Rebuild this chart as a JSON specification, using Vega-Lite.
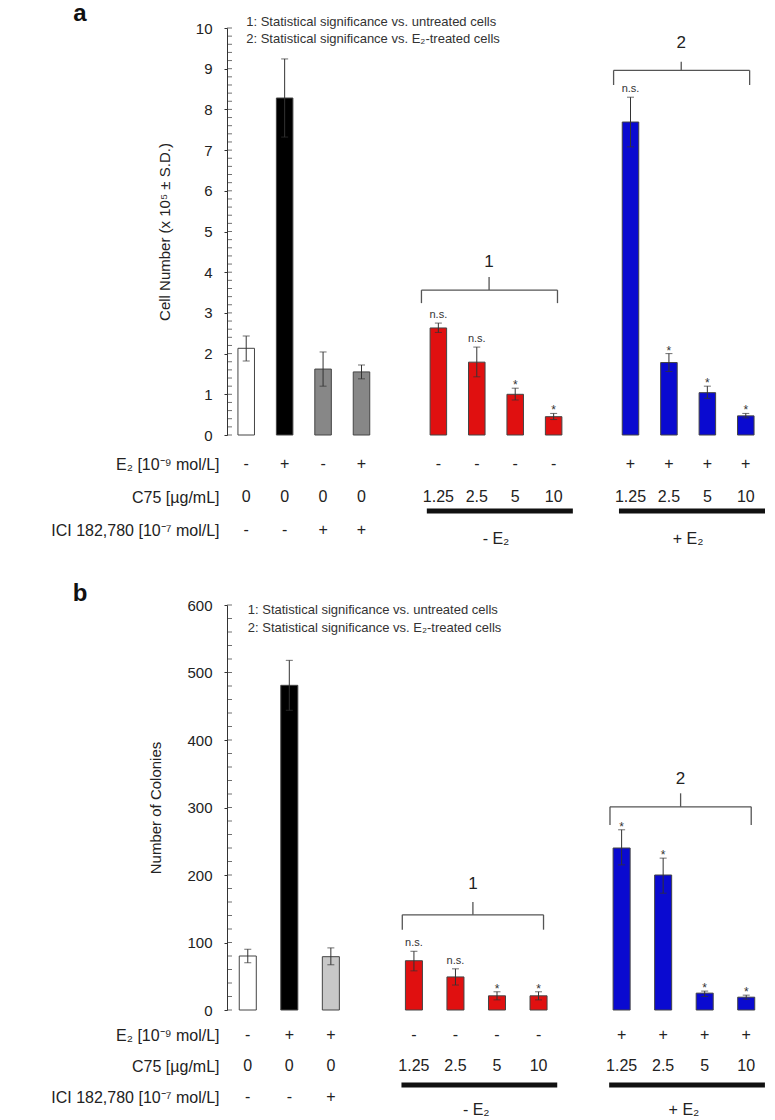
{
  "$schema": "https://vega.github.io/schema/vega-lite/v6.json",
  "background": "white",
  "padding": {"left": 50, "top": 1, "right": 5, "bottom": 0},
  "bounds": "flush",
  "spacing": 23,
  "config": {
    "view": {"stroke": null},
    "font": "Liberation Sans",
    "text": {"font": "Liberation Sans", "color": "#222222"},
    "axis": {"labelFont": "Liberation Sans", "titleFont": "Liberation Sans"}
  },
  "resolve": {"scale": {"x": "independent", "y": "independent", "color": "independent"}},
  "datasets": {
    "barsA": [
      {"id": "A1", "kind": "control", "mean": 2.13, "lo": 1.82, "hi": 2.43, "E2": "-", "C75": "0", "ICI": "-", "sig": ""},
      {"id": "A2", "kind": "E2", "mean": 8.28, "lo": 7.32, "hi": 9.24, "E2": "+", "C75": "0", "ICI": "-", "sig": ""},
      {"id": "A3", "kind": "ICI", "mean": 1.62, "lo": 1.2, "hi": 2.04, "E2": "-", "C75": "0", "ICI": "+", "sig": ""},
      {"id": "A4", "kind": "ICI+E2", "mean": 1.55, "lo": 1.38, "hi": 1.72, "E2": "+", "C75": "0", "ICI": "+", "sig": ""},
      {"id": "A5", "kind": "C75", "mean": 2.63, "lo": 2.52, "hi": 2.75, "E2": "-", "C75": "1.25", "ICI": "", "sig": "n.s."},
      {"id": "A6", "kind": "C75", "mean": 1.79, "lo": 1.43, "hi": 2.16, "E2": "-", "C75": "2.5", "ICI": "", "sig": "n.s."},
      {"id": "A7", "kind": "C75", "mean": 1.0, "lo": 0.86, "hi": 1.15, "E2": "-", "C75": "5", "ICI": "", "sig": "*"},
      {"id": "A8", "kind": "C75", "mean": 0.45, "lo": 0.38, "hi": 0.53, "E2": "-", "C75": "10", "ICI": "", "sig": "*"},
      {"id": "A9", "kind": "C75+E2", "mean": 7.69, "lo": 7.08, "hi": 8.3, "E2": "+", "C75": "1.25", "ICI": "", "sig": "n.s."},
      {"id": "A10", "kind": "C75+E2", "mean": 1.78, "lo": 1.56, "hi": 2.0, "E2": "+", "C75": "2.5", "ICI": "", "sig": "*"},
      {"id": "A11", "kind": "C75+E2", "mean": 1.04, "lo": 0.9, "hi": 1.2, "E2": "+", "C75": "5", "ICI": "", "sig": "*"},
      {"id": "A12", "kind": "C75+E2", "mean": 0.47, "lo": 0.42, "hi": 0.53, "E2": "+", "C75": "10", "ICI": "", "sig": "*"}
    ],
    "barsB": [
      {"id": "B1", "kind": "control", "mean": 80, "lo": 70, "hi": 90, "E2": "-", "C75": "0", "ICI": "-", "sig": ""},
      {"id": "B2", "kind": "E2", "mean": 481, "lo": 444, "hi": 518, "E2": "+", "C75": "0", "ICI": "-", "sig": ""},
      {"id": "B3", "kind": "ICI+E2", "mean": 79, "lo": 67, "hi": 92, "E2": "+", "C75": "0", "ICI": "+", "sig": ""},
      {"id": "B4", "kind": "C75", "mean": 73, "lo": 58, "hi": 87, "E2": "-", "C75": "1.25", "ICI": "", "sig": "n.s."},
      {"id": "B5", "kind": "C75", "mean": 49, "lo": 37, "hi": 61, "E2": "-", "C75": "2.5", "ICI": "", "sig": "n.s."},
      {"id": "B6", "kind": "C75", "mean": 21, "lo": 15, "hi": 27, "E2": "-", "C75": "5", "ICI": "", "sig": "*"},
      {"id": "B7", "kind": "C75", "mean": 21, "lo": 15, "hi": 27, "E2": "-", "C75": "10", "ICI": "", "sig": "*"},
      {"id": "B8", "kind": "C75+E2", "mean": 240, "lo": 215, "hi": 267, "E2": "+", "C75": "1.25", "ICI": "", "sig": "*"},
      {"id": "B9", "kind": "C75+E2", "mean": 200, "lo": 173, "hi": 225, "E2": "+", "C75": "2.5", "ICI": "", "sig": "*"},
      {"id": "B10", "kind": "C75+E2", "mean": 25, "lo": 20, "hi": 28, "E2": "+", "C75": "5", "ICI": "", "sig": "*"},
      {"id": "B11", "kind": "C75+E2", "mean": 19, "lo": 16, "hi": 22, "E2": "+", "C75": "10", "ICI": "", "sig": "*"}
    ],
    "minorA": [
      {"v": 0}, {"v": 0.2}, {"v": 0.4}, {"v": 0.6}, {"v": 0.8}, {"v": 1}, {"v": 1.2}, {"v": 1.4}, {"v": 1.6}, {"v": 1.8},
      {"v": 2}, {"v": 2.2}, {"v": 2.4}, {"v": 2.6}, {"v": 2.8}, {"v": 3}, {"v": 3.2}, {"v": 3.4}, {"v": 3.6}, {"v": 3.8},
      {"v": 4}, {"v": 4.2}, {"v": 4.4}, {"v": 4.6}, {"v": 4.8}, {"v": 5}, {"v": 5.2}, {"v": 5.4}, {"v": 5.6}, {"v": 5.8},
      {"v": 6}, {"v": 6.2}, {"v": 6.4}, {"v": 6.6}, {"v": 6.8}, {"v": 7}, {"v": 7.2}, {"v": 7.4}, {"v": 7.6}, {"v": 7.8},
      {"v": 8}, {"v": 8.2}, {"v": 8.4}, {"v": 8.6}, {"v": 8.8}, {"v": 9}, {"v": 9.2}, {"v": 9.4}, {"v": 9.6}, {"v": 9.8}, {"v": 10}
    ],
    "minorB": [
      {"v": 0}, {"v": 20}, {"v": 40}, {"v": 60}, {"v": 80}, {"v": 100}, {"v": 120}, {"v": 140}, {"v": 160}, {"v": 180},
      {"v": 200}, {"v": 220}, {"v": 240}, {"v": 260}, {"v": 280}, {"v": 300}, {"v": 320}, {"v": 340}, {"v": 360}, {"v": 380},
      {"v": 400}, {"v": 420}, {"v": 440}, {"v": 460}, {"v": 480}, {"v": 500}, {"v": 520}, {"v": 540}, {"v": 560}, {"v": 580}, {"v": 600}
    ],
    "bracesA": [
      {"from": "A5", "to": "A8", "mid": "A6", "yh": 3.56, "ye": 3.24, "yc": 3.88, "yl": 4.25, "label": "1"},
      {"from": "A9", "to": "A12", "mid": "A10", "yh": 8.96, "ye": 8.6, "yc": 9.17, "yl": 9.62, "label": "2"}
    ],
    "bracesB": [
      {"from": "B4", "to": "B7", "mid": "B5", "yh": 141, "ye": 119, "yc": 160, "yl": 187, "label": "1"},
      {"from": "B8", "to": "B11", "mid": "B9", "yh": 301, "ye": 274, "yc": 321, "yl": 342, "label": "2"}
    ],
    "groupsA": [
      {"from": "A5", "to": "A8", "mid": "A6", "label": "- E₂"},
      {"from": "A9", "to": "A12", "mid": "A10", "label": "+ E₂"}
    ],
    "groupsB": [
      {"from": "B4", "to": "B7", "mid": "B5", "label": "- E₂"},
      {"from": "B8", "to": "B11", "mid": "B9", "label": "+ E₂"}
    ],
    "notesA": [
      {"t": "1: Statistical significance vs. untreated cells", "y": 10.15},
      {"t": "2: Statistical significance vs. E₂-treated cells", "y": 9.72}
    ],
    "notesB": [
      {"t": "1: Statistical significance vs. untreated cells", "y": 593},
      {"t": "2: Statistical significance vs. E₂-treated cells", "y": 566}
    ]
  },
  "vconcat": [
    {
      "width": 538,
      "height": 407,
      "data": {"name": "barsA"},
      "resolve": {"axis": {"y": "independent"}},
      "layer": [
        {
          "mark": {"type": "bar", "width": {"band": 0.43}, "stroke": "#444444", "strokeWidth": 1},
          "encoding": {
            "x": {"field": "id", "type": "nominal", "scale": {"type": "band", "domain": ["A1", "A2", "A3", "A4", "gA1", "A5", "A6", "A7", "A8", "gA2", "A9", "A10", "A11", "A12"], "paddingInner": 0, "paddingOuter": 0}, "axis": null},
            "y": {"field": "mean", "type": "quantitative", "scale": {"domain": [0, 10], "nice": false}, "axis": {"orient": "left", "values": [0, 1, 2, 3, 4, 5, 6, 7, 8, 9, 10], "tickSize": 3, "tickColor": "#333333", "domainColor": "#333333", "labelFontSize": 15, "labelColor": "#222222", "labelPadding": 12, "grid": false, "title": "Cell Number (x 10⁵ ± S.D.)", "titleFontSize": 15, "titleFontWeight": "normal", "titleColor": "#222222", "titlePadding": 23}},
            "color": {"field": "kind", "type": "nominal", "scale": {"domain": ["control", "E2", "ICI", "ICI+E2", "C75", "C75+E2"], "range": ["#ffffff", "#000000", "#878787", "#878787", "#e01010", "#0a0ad0"]}, "legend": null}
          }
        },
        {
          "data": {"name": "minorA"},
          "mark": {"type": "tick", "orient": "horizontal", "size": 5, "thickness": 1, "xOffset": -16.7, "color": "#333333"},
          "encoding": {"x": {"datum": "A1"}, "y": {"field": "v", "type": "quantitative", "axis": null}}
        },
        {
          "mark": {"type": "rule", "color": "#333333", "strokeWidth": 1},
          "encoding": {"x": {"field": "id", "type": "nominal"}, "y": {"field": "lo", "type": "quantitative", "axis": null}, "y2": {"field": "hi"}}
        },
        {
          "mark": {"type": "tick", "color": "#333333", "size": 7, "thickness": 1},
          "encoding": {"x": {"field": "id", "type": "nominal"}, "y": {"field": "lo", "type": "quantitative", "axis": null}}
        },
        {
          "mark": {"type": "tick", "color": "#333333", "size": 7, "thickness": 1},
          "encoding": {"x": {"field": "id", "type": "nominal"}, "y": {"field": "hi", "type": "quantitative", "axis": null}}
        },
        {
          "transform": [{"filter": "datum.sig == 'n.s.'"}],
          "mark": {"type": "text", "fontSize": 11, "baseline": "alphabetic", "dy": -5, "color": "#333333"},
          "encoding": {"x": {"field": "id", "type": "nominal"}, "y": {"field": "hi", "type": "quantitative", "axis": null}, "text": {"field": "sig"}}
        },
        {
          "transform": [{"filter": "datum.sig == '*'"}],
          "mark": {"type": "text", "fontSize": 12, "baseline": "alphabetic", "dy": 1, "color": "#333333"},
          "encoding": {"x": {"field": "id", "type": "nominal"}, "y": {"field": "hi", "type": "quantitative", "axis": null}, "text": {"field": "sig"}}
        },
        {
          "data": {"name": "bracesA"},
          "mark": {"type": "rule", "color": "#555555", "strokeWidth": 1.3},
          "encoding": {"x": {"field": "from", "type": "nominal", "bandPosition": 0.06}, "x2": {"field": "to", "bandPosition": 0.6}, "y": {"field": "yh", "type": "quantitative", "axis": null}}
        },
        {
          "data": {"name": "bracesA"},
          "mark": {"type": "rule", "color": "#555555", "strokeWidth": 1.3},
          "encoding": {"x": {"field": "from", "type": "nominal", "bandPosition": 0.06}, "y": {"field": "ye", "type": "quantitative", "axis": null}, "y2": {"field": "yh"}}
        },
        {
          "data": {"name": "bracesA"},
          "mark": {"type": "rule", "color": "#555555", "strokeWidth": 1.3},
          "encoding": {"x": {"field": "to", "type": "nominal", "bandPosition": 0.6}, "y": {"field": "ye", "type": "quantitative", "axis": null}, "y2": {"field": "yh"}}
        },
        {
          "data": {"name": "bracesA"},
          "mark": {"type": "rule", "color": "#555555", "strokeWidth": 1.3},
          "encoding": {"x": {"field": "mid", "type": "nominal", "bandPosition": 0.82}, "y": {"field": "yh", "type": "quantitative", "axis": null}, "y2": {"field": "yc"}}
        },
        {
          "data": {"name": "bracesA"},
          "mark": {"type": "text", "fontSize": 17, "baseline": "middle"},
          "encoding": {"x": {"field": "mid", "type": "nominal", "bandPosition": 0.82}, "y": {"field": "yl", "type": "quantitative", "axis": null}, "text": {"field": "label"}}
        },
        {
          "data": {"name": "notesA"},
          "mark": {"type": "text", "fontSize": 13, "align": "left", "baseline": "middle", "color": "#333333"},
          "encoding": {"x": {"datum": "A1"}, "y": {"field": "y", "type": "quantitative", "axis": null}, "text": {"field": "t"}}
        },
        {
          "data": {"values": [{"t": "a", "y": 10.18}]},
          "mark": {"type": "text", "fontSize": 24, "fontWeight": "bold", "align": "left", "baseline": "alphabetic", "dx": -173, "color": "#111111"},
          "encoding": {"x": {"datum": "A1"}, "y": {"field": "y", "type": "quantitative", "axis": null}, "text": {"field": "t"}}
        }
      ]
    },
    {
      "width": 538,
      "height": 124,
      "layer": [
        {
          "data": {"name": "barsA"},
          "transform": [{"fold": ["E2", "C75", "ICI"], "as": ["row", "val"]}, {"filter": "datum.val != ''"}],
          "mark": {"type": "text", "fontSize": 16, "baseline": "middle"},
          "encoding": {
            "x": {"field": "id", "type": "nominal", "scale": {"type": "band", "domain": ["A1", "A2", "A3", "A4", "gA1", "A5", "A6", "A7", "A8", "gA2", "A9", "A10", "A11", "A12"], "paddingInner": 0, "paddingOuter": 0}, "axis": null},
            "y": {"field": "row", "type": "nominal", "scale": {"type": "point", "domain": ["E2", "C75", "ICI"], "range": [6, 72], "padding": 0}, "axis": {"orient": "left", "labelExpr": "datum.value == 'E2' ? 'E₂ [10⁻⁹ mol/L]' : datum.value == 'C75' ? 'C75 [µg/mL]' : 'ICI 182,780 [10⁻⁷ mol/L]'", "ticks": false, "domain": false, "grid": false, "labelFontSize": 16, "labelColor": "#222222", "labelPadding": 8, "title": null}},
            "text": {"field": "val"}
          }
        },
        {
          "data": {"name": "groupsA"},
          "mark": {"type": "rule", "strokeWidth": 5, "yOffset": -19, "color": "#111111"},
          "encoding": {"x": {"field": "from", "type": "nominal", "bandPosition": 0.2}, "x2": {"field": "to", "bandPosition": 1.0}, "y": {"datum": "ICI", "type": "nominal"}}
        },
        {
          "data": {"name": "groupsA"},
          "mark": {"type": "text", "fontSize": 16, "baseline": "middle", "yOffset": 9},
          "encoding": {"x": {"field": "mid", "type": "nominal", "bandPosition": 1.0}, "y": {"datum": "ICI", "type": "nominal"}, "text": {"field": "label"}}
        }
      ]
    },
    {
      "width": 540,
      "height": 405,
      "data": {"name": "barsB"},
      "resolve": {"axis": {"y": "independent"}},
      "layer": [
        {
          "mark": {"type": "bar", "width": {"band": 0.41}, "stroke": "#444444", "strokeWidth": 1},
          "encoding": {
            "x": {"field": "id", "type": "nominal", "scale": {"type": "band", "domain": ["B1", "B2", "B3", "gB1", "B4", "B5", "B6", "B7", "gB2", "B8", "B9", "B10", "B11"], "paddingInner": 0, "paddingOuter": 0}, "axis": null},
            "y": {"field": "mean", "type": "quantitative", "scale": {"domain": [0, 600], "nice": false}, "axis": {"orient": "left", "values": [0, 100, 200, 300, 400, 500, 600], "tickSize": 3, "tickColor": "#333333", "domainColor": "#333333", "labelFontSize": 15, "labelColor": "#222222", "labelPadding": 12, "grid": false, "title": "Number of Colonies", "titleFontSize": 15, "titleFontWeight": "normal", "titleColor": "#222222", "titlePadding": 23}},
            "color": {"field": "kind", "type": "nominal", "scale": {"domain": ["control", "E2", "ICI+E2", "C75", "C75+E2"], "range": ["#ffffff", "#000000", "#c8c8c8", "#e01010", "#0a0ad0"]}, "legend": null}
          }
        },
        {
          "data": {"name": "minorB"},
          "mark": {"type": "tick", "orient": "horizontal", "size": 5, "thickness": 1, "xOffset": -18.27, "color": "#333333"},
          "encoding": {"x": {"datum": "B1"}, "y": {"field": "v", "type": "quantitative", "axis": null}}
        },
        {
          "mark": {"type": "rule", "color": "#333333", "strokeWidth": 1},
          "encoding": {"x": {"field": "id", "type": "nominal"}, "y": {"field": "lo", "type": "quantitative", "axis": null}, "y2": {"field": "hi"}}
        },
        {
          "mark": {"type": "tick", "color": "#333333", "size": 7, "thickness": 1},
          "encoding": {"x": {"field": "id", "type": "nominal"}, "y": {"field": "lo", "type": "quantitative", "axis": null}}
        },
        {
          "mark": {"type": "tick", "color": "#333333", "size": 7, "thickness": 1},
          "encoding": {"x": {"field": "id", "type": "nominal"}, "y": {"field": "hi", "type": "quantitative", "axis": null}}
        },
        {
          "transform": [{"filter": "datum.sig == 'n.s.'"}],
          "mark": {"type": "text", "fontSize": 11, "baseline": "alphabetic", "dy": -5, "color": "#333333"},
          "encoding": {"x": {"field": "id", "type": "nominal"}, "y": {"field": "hi", "type": "quantitative", "axis": null}, "text": {"field": "sig"}}
        },
        {
          "transform": [{"filter": "datum.sig == '*'"}],
          "mark": {"type": "text", "fontSize": 12, "baseline": "alphabetic", "dy": 1, "color": "#333333"},
          "encoding": {"x": {"field": "id", "type": "nominal"}, "y": {"field": "hi", "type": "quantitative", "axis": null}, "text": {"field": "sig"}}
        },
        {
          "data": {"name": "bracesB"},
          "mark": {"type": "rule", "color": "#555555", "strokeWidth": 1.3},
          "encoding": {"x": {"field": "from", "type": "nominal", "bandPosition": 0.22}, "x2": {"field": "to", "bandPosition": 0.62}, "y": {"field": "yh", "type": "quantitative", "axis": null}}
        },
        {
          "data": {"name": "bracesB"},
          "mark": {"type": "rule", "color": "#555555", "strokeWidth": 1.3},
          "encoding": {"x": {"field": "from", "type": "nominal", "bandPosition": 0.22}, "y": {"field": "ye", "type": "quantitative", "axis": null}, "y2": {"field": "yh"}}
        },
        {
          "data": {"name": "bracesB"},
          "mark": {"type": "rule", "color": "#555555", "strokeWidth": 1.3},
          "encoding": {"x": {"field": "to", "type": "nominal", "bandPosition": 0.62}, "y": {"field": "ye", "type": "quantitative", "axis": null}, "y2": {"field": "yh"}}
        },
        {
          "data": {"name": "bracesB"},
          "mark": {"type": "rule", "color": "#555555", "strokeWidth": 1.3},
          "encoding": {"x": {"field": "mid", "type": "nominal", "bandPosition": 0.92}, "y": {"field": "yh", "type": "quantitative", "axis": null}, "y2": {"field": "yc"}}
        },
        {
          "data": {"name": "bracesB"},
          "mark": {"type": "text", "fontSize": 17, "baseline": "middle"},
          "encoding": {"x": {"field": "mid", "type": "nominal", "bandPosition": 0.92}, "y": {"field": "yl", "type": "quantitative", "axis": null}, "text": {"field": "label"}}
        },
        {
          "data": {"name": "notesB"},
          "mark": {"type": "text", "fontSize": 13, "align": "left", "baseline": "middle", "color": "#333333"},
          "encoding": {"x": {"datum": "B1"}, "y": {"field": "y", "type": "quantitative", "axis": null}, "text": {"field": "t"}}
        },
        {
          "data": {"values": [{"t": "b", "y": 606}]},
          "mark": {"type": "text", "fontSize": 24, "fontWeight": "bold", "align": "left", "baseline": "alphabetic", "dx": -175, "color": "#111111"},
          "encoding": {"x": {"datum": "B1"}, "y": {"field": "y", "type": "quantitative", "axis": null}, "text": {"field": "t"}}
        }
      ]
    },
    {
      "width": 540,
      "height": 87,
      "layer": [
        {
          "data": {"name": "barsB"},
          "transform": [{"fold": ["E2", "C75", "ICI"], "as": ["row", "val"]}, {"filter": "datum.val != ''"}],
          "mark": {"type": "text", "fontSize": 16, "baseline": "middle"},
          "encoding": {
            "x": {"field": "id", "type": "nominal", "scale": {"type": "band", "domain": ["B1", "B2", "B3", "gB1", "B4", "B5", "B6", "B7", "gB2", "B8", "B9", "B10", "B11"], "paddingInner": 0, "paddingOuter": 0}, "axis": null},
            "y": {"field": "row", "type": "nominal", "scale": {"type": "point", "domain": ["E2", "C75", "ICI"], "range": [2, 64], "padding": 0}, "axis": {"orient": "left", "labelExpr": "datum.value == 'E2' ? 'E₂ [10⁻⁹ mol/L]' : datum.value == 'C75' ? 'C75 [µg/mL]' : 'ICI 182,780 [10⁻⁷ mol/L]'", "ticks": false, "domain": false, "grid": false, "labelFontSize": 16, "labelColor": "#222222", "labelPadding": 8, "title": null}},
            "text": {"field": "val"}
          }
        },
        {
          "data": {"name": "groupsB"},
          "mark": {"type": "rule", "strokeWidth": 5, "yOffset": -12, "color": "#111111"},
          "encoding": {"x": {"field": "from", "type": "nominal", "bandPosition": 0.2}, "x2": {"field": "to", "bandPosition": 0.95}, "y": {"datum": "ICI", "type": "nominal"}}
        },
        {
          "data": {"name": "groupsB"},
          "mark": {"type": "text", "fontSize": 16, "baseline": "middle", "yOffset": 13},
          "encoding": {"x": {"field": "mid", "type": "nominal", "bandPosition": 1.0}, "y": {"datum": "ICI", "type": "nominal"}, "text": {"field": "label"}}
        }
      ]
    }
  ]
}
